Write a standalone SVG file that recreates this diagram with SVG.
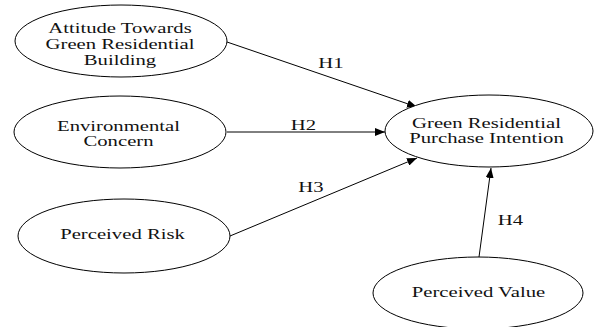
<svg xmlns="http://www.w3.org/2000/svg" width="595" height="327" viewBox="0 0 595 327">
<style>
.n{fill:#fff;stroke:#000;stroke-width:1}
.t{font-family:"Liberation Serif","Times New Roman",serif;font-size:15px;fill:#111;text-anchor:middle}
.c{stroke:#000;stroke-width:1;fill:none;marker-end:url(#a)}
</style>
<defs>
<marker id="a" viewBox="0 0 10 8" refX="10" refY="4" markerWidth="10" markerHeight="8" markerUnits="userSpaceOnUse" orient="auto">
<path d="M0,0L10,4L0,8z" fill="#000"/>
</marker>
</defs>
<rect width="595" height="327" fill="#fff"/>
<g id="edges">
<line class="c" x1="227" y1="42" x2="417" y2="107"/>
<line class="c" x1="227" y1="132" x2="385" y2="132"/>
<line class="c" x1="230" y1="236" x2="417" y2="158"/>
<line class="c" x1="479" y1="257" x2="491" y2="168"/>
<text class="t" transform="translate(331,0) scale(1.38,1)" x="0" y="68">H1</text>
<text class="t" transform="translate(303.5,0) scale(1.38,1)" x="0" y="130">H2</text>
<text class="t" transform="translate(311,0) scale(1.38,1)" x="0" y="192">H3</text>
<text class="t" transform="translate(510.5,0) scale(1.38,1)" x="0" y="225">H4</text>
</g>
<g id="attitude">
<ellipse class="n" cx="121" cy="41" rx="106" ry="36"/>
<g transform="translate(120,0) scale(1.38,1)">
<text class="t" x="0" y="33">Attitude Towards</text>
<text class="t" x="0" y="49">Green Residential</text>
<text class="t" x="0" y="65">Building</text>
</g>
</g>
<g id="environmental">
<ellipse class="n" cx="120" cy="132" rx="106" ry="36"/>
<g transform="translate(118.5,0) scale(1.38,1)">
<text class="t" x="0" y="131">Environmental</text>
<text class="t" x="0" y="146">Concern</text>
</g>
</g>
<g id="risk">
<ellipse class="n" cx="124" cy="236" rx="106" ry="37"/>
<text class="t" transform="translate(122.5,0) scale(1.38,1)" x="0" y="239">Perceived Risk</text>
</g>
<g id="intention">
<ellipse class="n" cx="489" cy="131" rx="104" ry="36"/>
<g transform="translate(486.5,0) scale(1.38,1)">
<text class="t" x="0" y="128">Green Residential</text>
<text class="t" x="0" y="143">Purchase Intention</text>
</g>
</g>
<g id="value">
<ellipse class="n" cx="478" cy="293" rx="105" ry="36"/>
<text class="t" transform="translate(478.5,0) scale(1.38,1)" x="0" y="297">Perceived Value</text>
</g>
</svg>
